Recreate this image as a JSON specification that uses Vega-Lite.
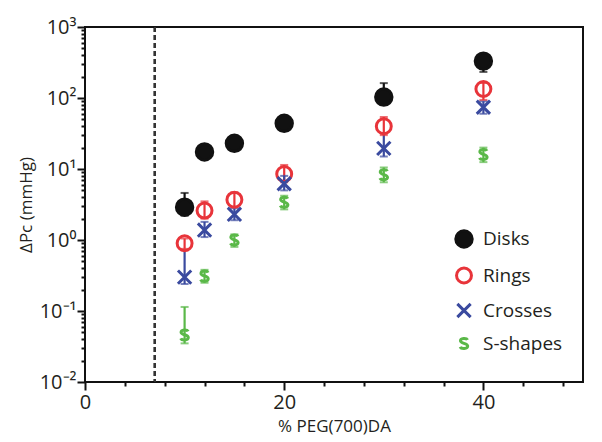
{
  "$schema": "https://vega.github.io/schema/vega-lite/v6.json",
  "width": 498,
  "height": 355,
  "autosize": "none",
  "padding": {"left": 85, "top": 27, "right": 19, "bottom": 60},
  "background": "white",
  "config": {
    "view": {"stroke": "#111", "strokeWidth": 2},
    "font": "Open Sans",
    "axis": {"domain": false, "grid": false, "ticks": true, "tickColor": "#111", "labelColor": "#231f20", "titleColor": "#231f20", "labelFont": "Open Sans", "titleFont": "Open Sans", "titleFontWeight": "normal", "labelFlush": false, "labelOverlap": false}
  },
  "data": {
    "values": [
      {"x": 10, "series": "Disks", "y": 2.9, "lo": 2.2, "hi": 4.6},
      {"x": 12, "series": "Disks", "y": 17.4, "lo": 15, "hi": 20},
      {"x": 15, "series": "Disks", "y": 23, "lo": 20, "hi": 26},
      {"x": 20, "series": "Disks", "y": 44, "lo": 38, "hi": 50},
      {"x": 30, "series": "Disks", "y": 103, "lo": 80, "hi": 162},
      {"x": 40, "series": "Disks", "y": 331, "lo": 233, "hi": 400},
      {"x": 10, "series": "Rings", "y": 0.9, "lo": 0.75, "hi": 1.05},
      {"x": 12, "series": "Rings", "y": 2.6, "lo": 2.0, "hi": 3.5},
      {"x": 15, "series": "Rings", "y": 3.7, "lo": 2.9, "hi": 4.7},
      {"x": 20, "series": "Rings", "y": 8.5, "lo": 6.5, "hi": 11.4},
      {"x": 30, "series": "Rings", "y": 40, "lo": 30, "hi": 54},
      {"x": 40, "series": "Rings", "y": 134, "lo": 94, "hi": 163},
      {"x": 10, "series": "Crosses", "y": 0.3, "lo": 0.24, "hi": 0.72},
      {"x": 12, "series": "Crosses", "y": 1.38, "lo": 1.1, "hi": 1.8},
      {"x": 15, "series": "Crosses", "y": 2.3, "lo": 1.9, "hi": 2.8},
      {"x": 20, "series": "Crosses", "y": 6.2, "lo": 5, "hi": 8},
      {"x": 30, "series": "Crosses", "y": 19.5, "lo": 15, "hi": 32},
      {"x": 40, "series": "Crosses", "y": 74, "lo": 60, "hi": 90},
      {"x": 10, "series": "S-shapes", "y": 0.046, "lo": 0.035, "hi": 0.114},
      {"x": 12, "series": "S-shapes", "y": 0.31, "lo": 0.25, "hi": 0.38},
      {"x": 15, "series": "S-shapes", "y": 1.0, "lo": 0.8, "hi": 1.2},
      {"x": 20, "series": "S-shapes", "y": 3.4, "lo": 2.7, "hi": 4.2},
      {"x": 30, "series": "S-shapes", "y": 8.3, "lo": 6.5, "hi": 10.5},
      {"x": 40, "series": "S-shapes", "y": 16, "lo": 12.5, "hi": 20}
    ]
  },
  "layer": [
    {
      "mark": {"type": "rule", "strokeDash": [5, 3], "strokeWidth": 1.5, "color": "#333"},
      "encoding": {
        "x": {"datum": 7, "type": "quantitative"}
      }
    },
    {
      "mark": {"type": "rule", "strokeWidth": 2.2},
      "encoding": {
        "x": {"field": "x", "type": "quantitative", "scale": {"domain": [0, 50], "nice": false},
          "axis": {"orient": "bottom", "values": [0, 2, 4, 6, 8, 10, 12, 14, 16, 18, 20, 22, 24, 26, 28, 30, 32, 34, 36, 38, 40, 42, 44, 46, 48, 50],
            "tickSize": {"condition": {"test": "datum.value % 10 === 0", "value": 8}, "value": 4}, "tickWidth": 2, "labelFontSize": 20, "labelPadding": 2, "labelOverlap": false,
            "labelExpr": "datum.value % 10 === 0 ? datum.label : ''",
            "title": "% PEG(700)DA", "titleFontSize": 17, "titlePadding": 6}},
        "y": {"field": "lo", "type": "quantitative", "scale": {"type": "log", "domain": [0.01, 1000], "nice": false},
          "axis": {"orient": "left", "values": [0.01, 0.02, 0.03, 0.04, 0.05, 0.06, 0.07, 0.08, 0.09, 0.1, 0.2, 0.3, 0.4, 0.5, 0.6, 0.7, 0.8, 0.9, 1, 2, 3, 4, 5, 6, 7, 8, 9, 10, 20, 30, 40, 50, 60, 70, 80, 90, 100, 200, 300, 400, 500, 600, 700, 800, 900, 1000],
            "tickSize": {"condition": {"test": "datum.value == 0.01 || datum.value == 0.1 || datum.value == 1 || datum.value == 10 || datum.value == 100 || datum.value == 1000", "value": 8}, "value": 4},
            "tickWidth": 2, "labelFontSize": 20, "labelPadding": 1, "labelOverlap": false,
            "labelExpr": "datum.value == 1000 ? '10³' : datum.value == 100 ? '10²' : datum.value == 10 ? '10¹' : datum.value == 1 ? '10⁰' : datum.value == 0.1 ? '10⁻¹' : datum.value == 0.01 ? '10⁻²' : ''",
            "title": "ΔPc (mmHg)", "titleFontSize": 17, "titlePadding": 4}},
        "y2": {"field": "hi"},
        "color": {"field": "series", "type": "nominal", "scale": {"domain": ["S-shapes", "Crosses", "Rings", "Disks"], "range": ["#5ab848", "#3a4a9f", "#e8343a", "#111111"]}, "legend": null}
      }
    },
    {
      "mark": {"type": "tick", "orient": "horizontal", "size": 8, "thickness": 2},
      "encoding": {
        "x": {"field": "x", "type": "quantitative"},
        "y": {"field": "hi", "type": "quantitative"},
        "color": {"field": "series", "type": "nominal", "legend": null}
      }
    },
    {
      "mark": {"type": "tick", "orient": "horizontal", "size": 8, "thickness": 2},
      "encoding": {
        "x": {"field": "x", "type": "quantitative"},
        "y": {"field": "lo", "type": "quantitative"},
        "color": {"field": "series", "type": "nominal", "legend": null}
      }
    },
    {
      "mark": {"type": "point", "strokeWidth": 3, "opacity": 1},
      "encoding": {
        "x": {"field": "x", "type": "quantitative"},
        "y": {"field": "y", "type": "quantitative"},
        "shape": {"field": "series", "type": "nominal",
          "scale": {"domain": ["Disks", "Rings", "Crosses", "S-shapes"], "range": ["circle", "circle", "M-1,-1L1,1M-1,1L1,-1", "M0.62,-0.62C0.45,-1.0 -0.65,-1.0 -0.62,-0.45C-0.6,0.0 0.65,-0.05 0.65,0.45C0.65,1.0 -0.5,1.0 -0.68,0.6"]},
          "legend": {"title": null, "orient": "none", "legendX": 369, "legendY": 202, "labelFontSize": 19, "labelColor": "#231f20", "symbolStrokeWidth": 3, "rowPadding": 8, "labelOffset": 9}},
        "fill": {"field": "series", "type": "nominal",
          "scale": {"domain": ["Disks", "Rings", "Crosses", "S-shapes"], "range": ["#111111", "transparent", "transparent", "transparent"]},
          "legend": {"title": null, "orient": "none", "legendX": 369, "legendY": 202, "labelFontSize": 19, "labelColor": "#231f20", "symbolStrokeWidth": 3, "rowPadding": 8, "labelOffset": 9}},
        "stroke": {"field": "series", "type": "nominal",
          "scale": {"domain": ["Disks", "Rings", "Crosses", "S-shapes"], "range": ["#111111", "#e8343a", "#3a4a9f", "#5ab848"]},
          "legend": {"title": null, "orient": "none", "legendX": 369, "legendY": 202, "labelFontSize": 19, "labelColor": "#231f20", "symbolStrokeWidth": 3, "rowPadding": 8, "labelOffset": 9}},
        "size": {"field": "series", "type": "nominal",
          "scale": {"domain": ["Disks", "Rings", "Crosses", "S-shapes"], "range": [270, 130, 120, 250]},
          "legend": {"title": null, "orient": "none", "legendX": 369, "legendY": 202, "labelFontSize": 19, "labelColor": "#231f20", "symbolStrokeWidth": 3, "rowPadding": 8, "labelOffset": 9}}
      }
    }
  ]
}
